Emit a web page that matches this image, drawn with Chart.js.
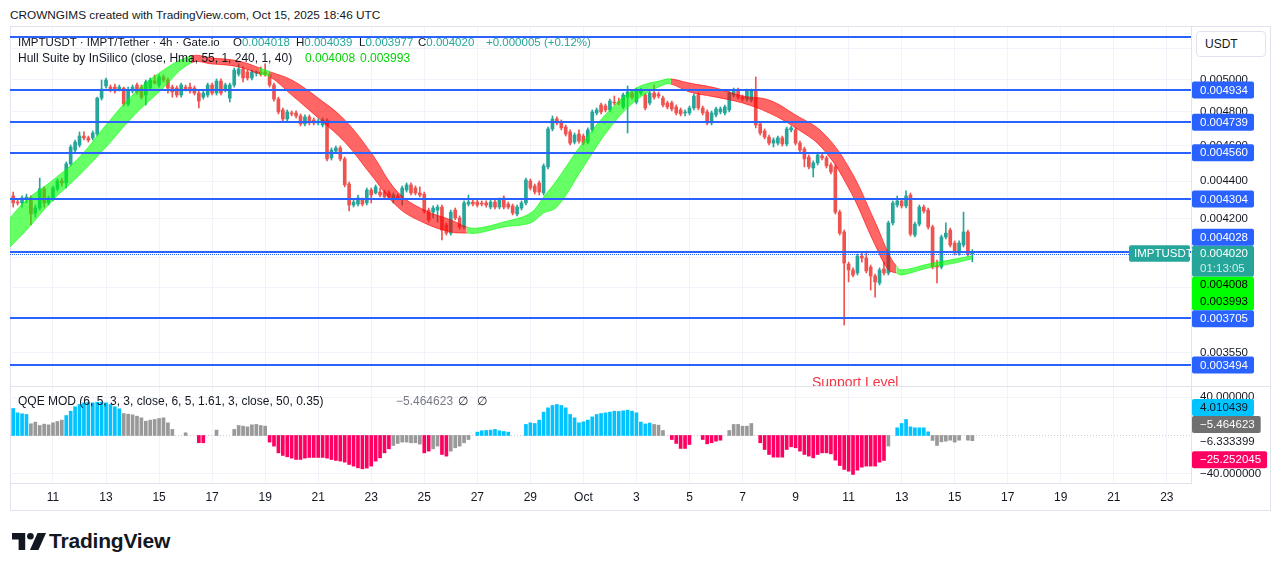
<!DOCTYPE html>
<html>
<head>
<meta charset="utf-8">
<title>IMPTUSDT 4h</title>
<script src="https://cdn.jsdelivr.net/npm/chart.js@4.4.1/dist/chart.umd.min.js"></script>
<style>
  html, body { margin: 0; padding: 0; background: #fff; }
  body { font-family: "Liberation Sans", Arial, sans-serif; color: #131722; }
  #page { position: relative; width: 1281px; height: 571px; overflow: hidden; }
  .t { position: absolute; white-space: nowrap; line-height: 14px; font-size: 12px; }
  .s { font-size: 11.5px; }
  canvas { position: absolute; }
  #frame { position: absolute; left: 10px; top: 26px; width: 1261px; height: 485px; border: 1px solid #e0e3eb; box-sizing: border-box; }
  #sep { position: absolute; left: 10px; top: 386px; width: 1260px; height: 1px; background: #e0e3eb; }
  #unit { position: absolute; left: 1196px; top: 31px; width: 70px; height: 26px; box-sizing: border-box; border: 1px solid #e0e3eb; border-radius: 4px; background: #fff; font-size: 12px; line-height: 24px; padding-left: 8px; }
  .teal { color: #26a69a; }
  .lime { color: #00d400; }
  .grey { color: #787b86; }
</style>
</head>
<body>
<div id="page">
  <div class="t" style="left:10px;top:8px;font-size:11.8px">CROWNGIMS created with TradingView.com, Oct 15, 2025 18:46 UTC</div>
  <div id="frame"></div>
  <canvas id="main" width="1260" height="359" style="left:10px;top:27px"></canvas>
  <div id="sep"></div>
  <canvas id="osc" width="1260" height="123" style="left:10px;top:387px"></canvas>

  <div class="t s" style="left:18px;top:35px">IMPTUSDT · IMPT/Tether · 4h · Gate.io</div>
  <div class="t s" style="left:233px;top:35px">O<span class="teal">0.004018</span></div>
  <div class="t s" style="left:296px;top:35px">H<span class="teal">0.004039</span></div>
  <div class="t s" style="left:359px;top:35px">L<span class="teal">0.003977</span></div>
  <div class="t s" style="left:418px;top:35px">C<span class="teal">0.004020</span></div>
  <div class="t s teal" style="left:486px;top:35px">+0.000005 (+0.12%)</div>
  <div class="t" style="left:18px;top:51px">Hull Suite by InSilico (close, Hma, 55, 1, 240, 1, 40)</div>
  <div class="t lime" style="left:305px;top:51px">0.004008</div>
  <div class="t lime" style="left:360px;top:51px">0.003993</div>

  <div class="t" style="left:18px;top:394px">QQE MOD (6, 5, 3, 3, close, 6, 5, 1.61, 3, close, 50, 0.35)</div>
  <div class="t grey" style="left:396px;top:394px">−5.464623</div>
  <div class="t" style="left:458px;top:394px">∅</div>
  <div class="t" style="left:477px;top:394px">∅</div>

  <div id="unit">USDT</div>

  <svg style="position:absolute;left:12px;top:533px" width="34" height="17" viewBox="0 0 36 18">
    <path d="M0 0h14v18h-7v-11h-7z" fill="#131722"/>
    <circle cx="19.5" cy="3.5" r="3.5" fill="#131722"/>
    <path d="M27 0h9l-8 18h-9z" fill="#131722"/>
  </svg>
  <div class="t" style="left:49px;top:529px;font-size:21px;line-height:24px;font-weight:700;letter-spacing:-0.2px">TradingView</div>
</div>

<script>
// ---------------------
// DATOS (4h, días contados desde el 31 de agosto)
// ---------------------
const firstBarDay = 9.5;   // 9 sep 12:00 UTC
const barStep = 1 / 6;     // velas de 4 horas

const opens = [
  0.004320,0.004287,0.004282,0.004303,0.004309,0.004228,0.004255,0.004358,0.004282,0.004303,0.004358,0.004402,
  0.004391,0.004497,0.004576,0.004605,0.004657,0.004646,0.004646,0.004669,0.004884,0.004959,0.004952,0.004952,
  0.004940,0.004946,0.004848,0.004928,0.004965,0.004952,0.004903,0.004946,0.004990,0.004965,0.005015,0.004996,
  0.004952,0.004946,0.004903,0.004952,0.004952,0.004946,0.004915,0.004890,0.004903,0.004965,0.004915,0.004990,
  0.004934,0.004884,0.004965,0.005034,0.005066,0.005047,0.005009,0.005040,0.005047,0.005047,0.005034,0.004965,
  0.004878,0.004812,0.004758,0.004794,0.004794,0.004776,0.004728,0.004770,0.004752,0.004734,0.004722,0.004746,
  0.004531,0.004570,0.004588,0.004525,0.004385,0.004271,0.004276,0.004298,0.004282,0.004352,0.004336,0.004341,
  0.004341,0.004336,0.004309,0.004320,0.004314,0.004352,0.004380,0.004363,0.004336,0.004330,0.004244,0.004233,
  0.004244,0.004260,0.004165,0.004123,0.004244,0.004202,0.004155,0.004276,0.004287,0.004287,0.004282,0.004282,
  0.004260,0.004287,0.004260,0.004309,0.004276,0.004266,0.004223,0.004255,0.004282,0.004402,0.004374,0.004391,
  0.004336,0.004480,0.004699,0.004758,0.004740,0.004710,0.004681,0.004622,0.004669,0.004657,0.004622,0.004693,
  0.004794,0.004842,0.004836,0.004812,0.004860,0.004860,0.004830,0.004890,0.004915,0.004860,0.004915,0.004903,
  0.004854,0.004915,0.004909,0.004884,0.004854,0.004854,0.004830,0.004812,0.004794,0.004794,0.004824,0.004903,
  0.004824,0.004800,0.004734,0.004782,0.004800,0.004794,0.004812,0.004903,0.004934,0.004890,0.004878,0.004872,
  0.004934,0.004728,0.004687,0.004651,0.004616,0.004616,0.004646,0.004611,0.004693,0.004693,0.004616,0.004582,
  0.004536,0.004474,0.004503,0.004542,0.004531,0.004491,0.004480,0.004233,0.004129,0.003966,0.003937,0.003922,
  0.004006,0.003996,0.003951,0.003907,0.003873,0.003942,0.003922,0.004176,0.004271,0.004293,0.004266,0.004325,
  0.004113,0.004170,0.004260,0.004244,0.004155,0.003956,0.003951,0.004103,0.004139,0.004072,0.004021,0.004062,
  0.004129,0.004018
];
const highs = [
  0.004341,0.004303,0.004320,0.004330,0.004320,0.004271,0.004418,0.004369,0.004320,0.004374,0.004413,0.004418,
  0.004508,0.004605,0.004634,0.004681,0.004681,0.004657,0.004687,0.004890,0.004996,0.005009,0.004965,0.004971,
  0.004965,0.004952,0.004952,0.004965,0.004977,0.004965,0.004996,0.005009,0.005028,0.005028,0.005028,0.005009,
  0.004965,0.004959,0.004977,0.004965,0.004977,0.004959,0.004928,0.004928,0.004977,0.004977,0.005003,0.005003,
  0.004977,0.004977,0.005072,0.005098,0.005079,0.005059,0.005059,0.005053,0.005079,0.005098,0.005047,0.004977,
  0.004890,0.004824,0.004812,0.004806,0.004806,0.004788,0.004782,0.004782,0.004764,0.004758,0.004764,0.004758,
  0.004588,0.004599,0.004599,0.004536,0.004396,0.004298,0.004325,0.004309,0.004363,0.004363,0.004380,0.004363,
  0.004352,0.004347,0.004336,0.004330,0.004374,0.004391,0.004391,0.004374,0.004369,0.004341,0.004255,0.004266,
  0.004271,0.004271,0.004176,0.004244,0.004255,0.004213,0.004293,0.004325,0.004298,0.004298,0.004293,0.004293,
  0.004298,0.004298,0.004309,0.004320,0.004287,0.004276,0.004271,0.004293,0.004418,0.004413,0.004385,0.004402,
  0.004497,0.004710,0.004776,0.004770,0.004752,0.004722,0.004693,0.004675,0.004693,0.004669,0.004705,0.004812,
  0.004824,0.004854,0.004848,0.004878,0.004897,0.004884,0.004915,0.004959,0.004928,0.004946,0.004946,0.004915,
  0.004928,0.004965,0.004922,0.004897,0.004866,0.004866,0.004842,0.004824,0.004812,0.004836,0.004909,0.004915,
  0.004836,0.004812,0.004806,0.004830,0.004830,0.004842,0.004928,0.004946,0.004946,0.004903,0.004940,0.004940,
  0.005015,0.004740,0.004699,0.004663,0.004646,0.004657,0.004657,0.004710,0.004716,0.004705,0.004628,0.004593,
  0.004548,0.004514,0.004559,0.004553,0.004542,0.004503,0.004491,0.004244,0.004139,0.003976,0.003947,0.004016,
  0.004027,0.004027,0.003961,0.003917,0.003947,0.003976,0.004186,0.004293,0.004320,0.004303,0.004347,0.004336,
  0.004181,0.004271,0.004271,0.004255,0.004165,0.003986,0.004113,0.004176,0.004149,0.004083,0.004083,0.004233,
  0.004139,0.004039
];
const lows = [
  0.004260,0.004271,0.004260,0.004282,0.004165,0.004207,0.004244,0.004260,0.004271,0.004293,0.004347,0.004374,
  0.004363,0.004486,0.004565,0.004593,0.004634,0.004622,0.004634,0.004657,0.004872,0.004946,0.004922,0.004915,
  0.004928,0.004836,0.004836,0.004915,0.004909,0.004878,0.004842,0.004934,0.004971,0.004952,0.004984,0.004915,
  0.004890,0.004890,0.004890,0.004928,0.004915,0.004903,0.004824,0.004878,0.004890,0.004903,0.004903,0.004903,
  0.004922,0.004860,0.004952,0.005021,0.004984,0.004996,0.004996,0.005021,0.005021,0.005021,0.004952,0.004866,
  0.004788,0.004746,0.004746,0.004776,0.004764,0.004716,0.004716,0.004722,0.004722,0.004722,0.004710,0.004514,
  0.004519,0.004559,0.004514,0.004369,0.004239,0.004260,0.004266,0.004266,0.004271,0.004282,0.004330,0.004314,
  0.004303,0.004303,0.004282,0.004298,0.004271,0.004341,0.004325,0.004325,0.004314,0.004228,0.004181,0.004202,
  0.004181,0.004088,0.004113,0.004113,0.004192,0.004144,0.004144,0.004266,0.004266,0.004260,0.004266,0.004260,
  0.004250,0.004250,0.004250,0.004250,0.004250,0.004218,0.004213,0.004244,0.004271,0.004352,0.004330,0.004325,
  0.004325,0.004469,0.004687,0.004722,0.004693,0.004657,0.004605,0.004611,0.004616,0.004605,0.004611,0.004681,
  0.004782,0.004788,0.004800,0.004800,0.004842,0.004842,0.004818,0.004675,0.004878,0.004848,0.004903,0.004812,
  0.004842,0.004878,0.004884,0.004830,0.004818,0.004806,0.004782,0.004776,0.004776,0.004782,0.004812,0.004812,
  0.004782,0.004722,0.004722,0.004770,0.004788,0.004782,0.004800,0.004890,0.004878,0.004866,0.004866,0.004860,
  0.004705,0.004663,0.004640,0.004605,0.004593,0.004605,0.004599,0.004599,0.004681,0.004605,0.004565,0.004480,
  0.004469,0.004424,0.004491,0.004519,0.004474,0.004441,0.004223,0.004113,0.003674,0.003878,0.003902,0.003912,
  0.003976,0.003922,0.003839,0.003805,0.003863,0.003912,0.003912,0.004165,0.004260,0.004255,0.004255,0.004108,
  0.004103,0.004160,0.004228,0.004144,0.003942,0.003873,0.003942,0.004093,0.004052,0.004011,0.004011,0.004052,
  0.004006,0.003977
];
const closes = [
  0.004282,0.004282,0.004309,0.004314,0.004223,0.004255,0.004358,0.004282,0.004309,0.004363,0.004402,0.004391,
  0.004497,0.004593,0.004622,0.004657,0.004646,0.004634,0.004675,0.004884,0.004940,0.004996,0.004934,0.004928,
  0.004952,0.004848,0.004934,0.004952,0.004922,0.004890,0.004984,0.004996,0.004977,0.005015,0.004996,0.004946,
  0.004922,0.004903,0.004965,0.004940,0.004928,0.004915,0.004866,0.004915,0.004965,0.004915,0.004990,0.004915,
  0.004965,0.004965,0.005059,0.005066,0.005009,0.005009,0.005047,0.005047,0.005034,0.005034,0.004965,0.004878,
  0.004800,0.004758,0.004800,0.004788,0.004776,0.004728,0.004770,0.004734,0.004734,0.004746,0.004752,0.004525,
  0.004576,0.004588,0.004525,0.004380,0.004271,0.004287,0.004309,0.004276,0.004352,0.004325,0.004369,0.004325,
  0.004314,0.004314,0.004325,0.004309,0.004363,0.004380,0.004336,0.004336,0.004325,0.004239,0.004192,0.004255,
  0.004260,0.004139,0.004123,0.004233,0.004202,0.004155,0.004282,0.004287,0.004276,0.004271,0.004276,0.004271,
  0.004287,0.004260,0.004298,0.004260,0.004260,0.004228,0.004260,0.004282,0.004407,0.004363,0.004341,0.004341,
  0.004486,0.004699,0.004758,0.004734,0.004705,0.004669,0.004616,0.004663,0.004628,0.004616,0.004693,0.004800,
  0.004812,0.004800,0.004812,0.004866,0.004854,0.004854,0.004903,0.004922,0.004890,0.004934,0.004934,0.004824,
  0.004915,0.004890,0.004897,0.004842,0.004830,0.004818,0.004794,0.004788,0.004800,0.004824,0.004897,0.004824,
  0.004794,0.004734,0.004794,0.004818,0.004818,0.004830,0.004915,0.004934,0.004890,0.004878,0.004928,0.004928,
  0.004722,0.004675,0.004651,0.004616,0.004634,0.004646,0.004611,0.004699,0.004705,0.004616,0.004576,0.004525,
  0.004480,0.004503,0.004548,0.004531,0.004486,0.004452,0.004233,0.004123,0.003971,0.003937,0.003912,0.004006,
  0.003996,0.003932,0.003907,0.003878,0.003937,0.003922,0.004176,0.004282,0.004293,0.004266,0.004320,0.004118,
  0.004170,0.004260,0.004239,0.004155,0.003951,0.003951,0.004103,0.004123,0.004062,0.004021,0.004072,0.004129,
  0.004016,0.004020
];

// Hull Suite: bordes de la banda, un punto por día
const hullDays = [9.38,10,11,12,13,14,15,16.2,17,18,18.8,19.2,20,21,22,23,24,25,26,26.6,27,28,29,29.5,30,31,32,33,34,34.3,35,36,37,38,39,40,41,42,42.5,42.8,43,44,45,45.667];
const hullUpper = [0.004202,0.004298,0.004407,0.004536,0.004722,0.004903,0.005040,0.005149,0.005136,0.005117,0.005072,0.005047,0.004996,0.004884,0.004752,0.004559,0.004341,0.004244,0.004192,0.004155,0.004149,0.004181,0.004228,0.004314,0.004407,0.004622,0.004812,0.004946,0.004996,0.005003,0.004977,0.004946,0.004897,0.004872,0.004782,0.004681,0.004480,0.004181,0.004021,0.003956,0.003937,0.003966,0.003991,0.004008];
const hullLower = [0.004052,0.004139,0.004298,0.004435,0.004593,0.004770,0.004922,0.005104,0.005098,0.005079,0.005034,0.005015,0.004903,0.004764,0.004622,0.004435,0.004260,0.004176,0.004129,0.004123,0.004123,0.004155,0.004176,0.004228,0.004260,0.004480,0.004705,0.004872,0.004965,0.004971,0.004922,0.004890,0.004854,0.004794,0.004705,0.004588,0.004363,0.004062,0.003937,0.003922,0.003912,0.003947,0.003971,0.003993];
const hullRuns = [['u', 7], ['d', 3], ['u', 1], ['d', 8], ['u', 10], ['d', 10], ['u', 5]];
const hullLast = [0.004008, 0.003993];

// QQE MOD histograma (null = sin barra)
const qqeHist = [
  28.1,23.6,22.6,21.9,12.2,13.9,10.4,11.8,11.1,13.2,14.6,16,
  20.8,25.3,29.9,32.3,34,34.7,34,34.7,34.7,34,32.3,29.9,
  27.8,22.9,22.2,21.5,20.1,18.4,14.9,16,16.7,17.7,18.4,13.2,
  6.3,null,null,2.8,null,null,-7.6,-7.6,null,null,5.6,null,
  null,null,6.3,10.4,9.7,9,11.1,11.5,10.4,9.7,-6.9,-11.1,
  -18.1,-20.8,-22.2,-23.6,-25,-25,-23.6,-22.9,-22.9,-22.9,-22.9,-23.6,
  -25,-26,-26.7,-27.8,-30.2,-31.9,-33.7,-34.7,-34,-31.9,-26.7,-23.3,
  -18.1,-13.9,-10.4,-8.3,-6.9,-6.9,-7.6,-7.6,-9,-18.1,-16.3,-13.9,
  -11.1,-19.8,-21.5,-16.3,-12.8,-11.1,-7.6,-4.2,null,3.5,4.9,5.2,
  5.6,6.3,4.9,4.2,3.5,null,null,null,11.5,13.2,12.5,16,
  24.3,28.8,31.3,32.3,31.3,28.8,21.9,18.4,13.2,14.2,16,19.4,
  21.9,22.9,23.6,24.3,25.3,25,25.7,26.4,25.3,23.6,14,12,
  13,11.5,10.8,5.2,null,-4.2,-8.3,-13.5,-13.5,-9.4,null,null,
  -4.2,-8.7,-7.6,-5.9,-4.9,null,5.2,11.5,11.5,9.7,9.7,12.5,
  null,-7.6,-14.6,-19.8,-22.6,-22.6,-22.6,-14.6,-11.8,-12.8,-16.3,-19.8,
  -21.5,-23.3,-19.8,-18.1,-18.1,-19.1,-25.7,-31.3,-35.4,-37.2,-40.6,-36.1,
  -33,-31.9,-31.9,-31.9,-27.8,-26,-11,null,8,12.5,16.7,9,
  8,8,8,3.8,-5.2,-10.4,-6.6,-5.9,-4.9,-6.9,-4.9,null,
  -4.9,-5.46
];
// estado de cada barra: u = encima del umbral, d = debajo, n = neutral, - = vacío
const qqeRuns = [
  ['u',4],['n',8],['u',13],['n',12],['-',2],['n',1],['-',2],['d',2],['-',2],['n',1],['-',3],
  ['n',8],['d',28],['n',7],['d',2],['n',2],['d',2],['n',5],['-',1],['u',8],['-',3],
  ['u',29],['n',3],['-',1],['d',5],['-',2],['d',5],['-',1],['n',6],['-',1],
  ['d',29],['n',1],['-',1],['u',8],['n',10]
];
const qqeLast = [4.010439, -5.464623, -6.333399, -25.252045];

// niveles horizontales dibujados (el de arriba no lleva etiqueta en el eje)
const levels = [0.005276, 0.004934, 0.004739, 0.004560, 0.004304, 0.004028, 0.003705, 0.003494];
const levelTagged = [false, true, true, true, true, true, true, true];
const lastPrice = 0.004020;
const countdown = '01:13:05';

// ejes
const xMin = 9.379, xMax = 53.911;
const dayTicks = [11,13,15,17,19,21,23,25,27,29,31,33,35,37,39,41,43,45,47,49,51,53];
const dayTickLabels = ['11','13','15','17','19','21','23','25','27','29','Oct','3','5','7','9','11','13','15','17','19','21','23'];
const priceMin = 0.0034034, priceMax = 0.0053398;
const priceTicks = [0.0052, 0.005, 0.0048, 0.0046, 0.0044, 0.0042, 0.004, 0.00385, 0.00355];
const priceTickLabels = ['0.005200','0.005000','0.004800','0.004600','0.004400','0.004200','0.004000','0.003850','0.003550'];
const qqeMin = -49.5, qqeMax = 50.5;
const qqeTicks = [40, -40];
const qqeTickLabels = ['40.000000', '−40.000000'];

// ---------------------
// ESTILOS
// ---------------------
const FONT = '"Liberation Sans", Arial, sans-serif';
const AXIS_FONT = '11.5px ' + FONT;
const UP = '#26a69a', DOWN = '#ef5350', LEVEL = '#2962ff';
const HULL_UP = 'rgba(0,255,0,0.6)', HULL_DOWN = 'rgba(255,0,0,0.6)';
const QQE_COLORS = { u: '#00c3ff', d: '#ff0062', n: '#999999', '-': '#999999' };
const qqeLabelStyle = [
  { fill: '#00c3ff', color: '#131722' },
  { fill: '#707070', color: '#ffffff' },
  { fill: null, color: '#131722' },
  { fill: '#ff0062', color: '#ffffff' }
];

Chart.defaults.font.family = FONT;
Chart.defaults.color = '#131722';

const expandRuns = runs => runs.flatMap(([s, n]) => Array(n).fill(s));
const qqeState = expandRuns(qqeRuns);
const hullState = expandRuns(hullRuns);
const barDays = closes.map((_, i) => firstBarDay + i * barStep);
const candleColors = closes.map((c, i) => c >= opens[i] ? UP : DOWN);
const hullColor = i => hullState[i] === 'u' ? HULL_UP : HULL_DOWN;
const fmt = v => v.toFixed(6).replace('-', '−');

function tagBox(ctx, x, y, w, h, fill) {
  ctx.fillStyle = fill;
  ctx.beginPath();
  ctx.roundRect(x, y, w, h, 2);
  ctx.fill();
}

const xScale = hideLabels => ({
  type: 'linear', min: xMin, max: xMax, offset: false, bounds: 'data',
  grid: { color: '#f0f3fa', drawTicks: false, offset: false },
  border: { display: !hideLabels, color: '#e0e3eb' },
  ticks: {
    display: !hideLabels, autoSkip: false, maxRotation: 0, padding: 7,
    font: { size: 12 }, color: '#131722',
    callback: (v, i) => dayTickLabels[i]
  },
  afterBuildTicks: s => { s.ticks = dayTicks.map(v => ({ value: v })); },
  afterFit: s => { s.height = hideLabels ? 0 : 27; s.paddingLeft = 0; s.paddingRight = 0; }
});

// ---------------------
// GRÁFICO PRINCIPAL
// ---------------------
const pricePlugin = {
  id: 'priceOverlay',
  afterDatasetsDraw(chart) {
    const { ctx, chartArea: a, scales: { y } } = chart;
    ctx.save();
    ctx.strokeStyle = LEVEL;
    ctx.lineWidth = 2;
    levels.forEach(v => {
      const py = Math.round(y.getPixelForValue(v));
      ctx.beginPath(); ctx.moveTo(a.left, py); ctx.lineTo(a.right, py); ctx.stroke();
    });
    const ly = Math.round(y.getPixelForValue(lastPrice)) + 1.5;
    ctx.lineWidth = 1;
    ctx.setLineDash([1, 1]);
    ctx.beginPath(); ctx.moveTo(a.left, ly); ctx.lineTo(a.right - 62, ly); ctx.stroke();
    ctx.restore();
  },
  afterDraw(chart) {
    const { ctx, chartArea: a, scales: { y } } = chart;
    const bx = a.right + 1, bw = 62, tx = a.right + 9;
    ctx.save();
    ctx.font = AXIS_FONT;
    ctx.textBaseline = 'middle';
    ctx.textAlign = 'left';
    const text = (s, x, yy, c) => { ctx.fillStyle = c; ctx.fillText(s, x, yy); };

    const lastY = y.getPixelForValue(lastPrice);
    const tealTop = lastY - 7.5, tealBot = tealTop + 31;
    tagBox(ctx, bx, tealTop, bw, 31, UP);
    text(fmt(lastPrice), tx, tealTop + 8, '#ffffff');
    text(countdown, tx, tealTop + 23, 'rgba(255,255,255,0.8)');

    tagBox(ctx, a.right - 62, lastY - 8, 61, 16.5, UP);
    text('IMPTUSDT', a.right - 57, lastY + 0.5, '#ffffff');

    const hTop = Math.max(y.getPixelForValue(hullLast[0]) - 8.5, tealBot);
    tagBox(ctx, bx, hTop, bw, 33.5, '#00ff00');
    text(fmt(hullLast[0]), tx, hTop + 8.5, '#000000');
    text(fmt(hullLast[1]), tx, hTop + 25, '#000000');

    const tagged = levels.filter((v, i) => levelTagged[i]);
    let upEdge = tealTop, downEdge = hTop + 33.5;
    tagged.filter(v => v > lastPrice).sort((p, q) => p - q).forEach(v => {
      const cy = Math.min(y.getPixelForValue(v), upEdge - 8.5);
      upEdge = cy - 8.5;
      tagBox(ctx, bx, cy - 8.5, bw, 17, LEVEL);
      text(fmt(v), tx, cy + 0.5, '#ffffff');
    });
    tagged.filter(v => v < lastPrice).sort((p, q) => q - p).forEach(v => {
      const cy = Math.max(y.getPixelForValue(v), downEdge + 8.5);
      downEdge = cy + 8.5;
      tagBox(ctx, bx, cy - 8.5, bw, 17, LEVEL);
      text(fmt(v), tx, cy + 0.5, '#ffffff');
    });

    ctx.font = '14px ' + FONT;
    ctx.textBaseline = 'alphabetic';
    text('Support Level', a.left + 802, a.bottom + 1, '#f23645');
    ctx.restore();
  }
};

new Chart(document.getElementById('main'), {
  type: 'bar',
  data: {
    datasets: [
      {
        type: 'line',
        data: hullDays.map((d, i) => ({ x: d, y: hullUpper[i] })),
        borderColor: HULL_UP, backgroundColor: HULL_UP, borderWidth: 1,
        pointRadius: 0, tension: 0.4, fill: '+1',
        segment: { borderColor: c => hullColor(c.p0DataIndex), backgroundColor: c => hullColor(c.p0DataIndex) }
      },
      {
        type: 'line',
        data: hullDays.map((d, i) => ({ x: d, y: hullLower[i] })),
        borderColor: HULL_UP, borderWidth: 1, pointRadius: 0, tension: 0.4, fill: false,
        segment: { borderColor: c => hullColor(c.p0DataIndex) }
      },
      {
        data: barDays.map((d, i) => ({ x: d, y: [opens[i], closes[i]] })),
        backgroundColor: candleColors, barThickness: 3, minBarLength: 1, grouped: false, borderWidth: 0
      },
      {
        data: barDays.map((d, i) => ({ x: d, y: [lows[i], highs[i]] })),
        backgroundColor: candleColors, barThickness: 1, minBarLength: 1, grouped: false, borderWidth: 0
      }
    ]
  },
  options: {
    responsive: false, animation: false, devicePixelRatio: 1, events: [],
    layout: { padding: 0 },
    plugins: { legend: { display: false }, tooltip: { enabled: false } },
    scales: {
      x: xScale(true),
      y: {
        type: 'logarithmic', position: 'right', min: priceMin, max: priceMax, bounds: 'data',
        grid: { color: '#f0f3fa', drawTicks: false },
        border: { display: true, color: '#e0e3eb' },
        ticks: { padding: 9, autoSkip: false, font: { size: 11.5 }, color: '#131722', callback: (v, i) => priceTickLabels[i] },
        afterBuildTicks: s => { s.ticks = priceTicks.map(v => ({ value: v })); },
        afterFit: s => { s.width = 79; s.paddingTop = 0; s.paddingBottom = 0; }
      }
    }
  },
  plugins: [pricePlugin]
});

// ---------------------
// QQE MOD
// ---------------------
const oscPlugin = {
  id: 'oscOverlay',
  beforeDatasetsDraw(chart) {
    const { ctx, chartArea: a, scales: { y } } = chart;
    const py = Math.round(y.getPixelForValue(0)) + 0.5;
    ctx.save();
    ctx.strokeStyle = '#c8cad0';
    ctx.setLineDash([1, 2]);
    ctx.beginPath(); ctx.moveTo(a.left, py); ctx.lineTo(a.right, py); ctx.stroke();
    ctx.restore();
  },
  afterDraw(chart) {
    const { ctx, chartArea: a, scales: { y } } = chart;
    const bx = a.right + 1, tx = a.right + 9;
    ctx.save();
    ctx.font = AXIS_FONT;
    ctx.textBaseline = 'middle';
    const order = qqeLast.map((v, i) => i).sort((p, q) => qqeLast[p] - qqeLast[q]);
    let prevTop = Infinity;
    order.forEach(i => {
      const cy = Math.min(y.getPixelForValue(qqeLast[i]), prevTop - 8.5);
      prevTop = cy - 8.5;
      const st = qqeLabelStyle[i];
      const label = fmt(qqeLast[i]);
      if (st.fill) tagBox(ctx, bx, cy - 8.5, ctx.measureText(label).width + 14, 17, st.fill);
      ctx.fillStyle = st.color;
      ctx.fillText(label, tx, cy + 0.5);
    });
    ctx.restore();
  }
};

new Chart(document.getElementById('osc'), {
  type: 'bar',
  data: {
    datasets: [{
      data: barDays.map((d, i) => ({ x: d, y: qqeHist[i] })),
      backgroundColor: qqeState.map(s => QQE_COLORS[s]),
      barThickness: 3, grouped: false, borderWidth: 0
    }]
  },
  options: {
    responsive: false, animation: false, devicePixelRatio: 1, events: [],
    layout: { padding: 0 },
    plugins: { legend: { display: false }, tooltip: { enabled: false } },
    scales: {
      x: xScale(false),
      y: {
        type: 'linear', position: 'right', min: qqeMin, max: qqeMax, bounds: 'data',
        grid: { color: '#f0f3fa', drawTicks: false },
        border: { display: true, color: '#e0e3eb' },
        ticks: { padding: 9, autoSkip: false, font: { size: 11.5 }, color: '#131722', callback: (v, i) => qqeTickLabels[i] },
        afterBuildTicks: s => { s.ticks = qqeTicks.map(v => ({ value: v })); },
        afterFit: s => { s.width = 79; s.paddingTop = 0; s.paddingBottom = 0; }
      }
    }
  },
  plugins: [oscPlugin]
});
</script>
</body>
</html>
